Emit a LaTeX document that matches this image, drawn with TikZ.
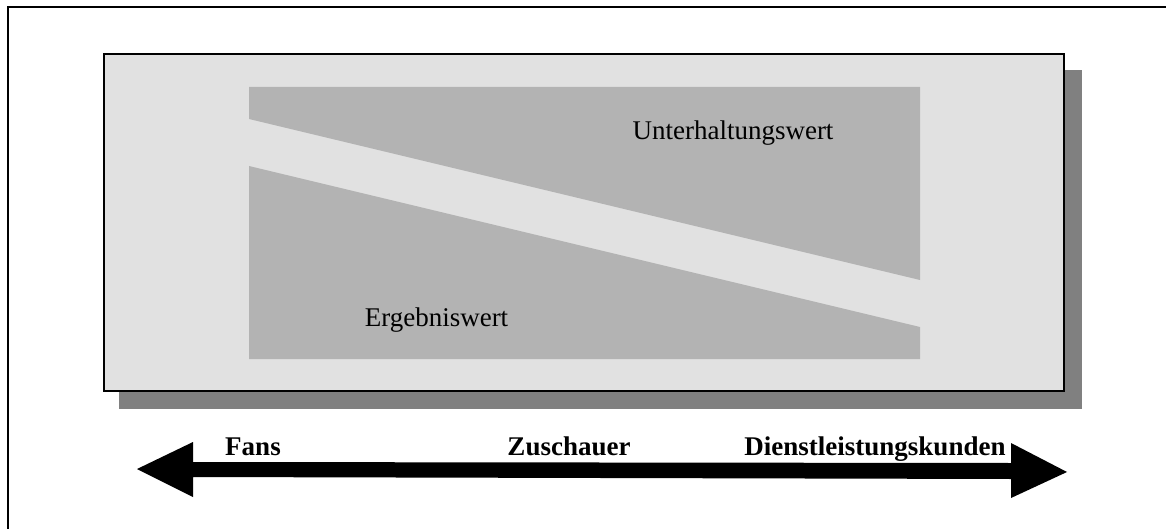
\documentclass[tikz,border=0pt]{standalone}
\usepackage{fontspec}
\setmainfont{Liberation Serif}
\definecolor{panelgray}{HTML}{E1E1E1}
\definecolor{wedgegray}{HTML}{B3B3B3}
\definecolor{shadowgray}{HTML}{808080}
\begin{document}
\begin{tikzpicture}[x=1pt,y=-1pt,
  lbl/.style={anchor=base,inner sep=0pt,font=\fontsize{27}{30}\selectfont},
  blbl/.style={lbl,font=\fontsize{27}{30}\selectfont\bfseries}]
\useasboundingbox (0,0) rectangle (1166,529);
% frame (left and top edges)
\draw[line width=1.6pt] (8,529) -- (8,7) -- (1166,7);
% drop shadow and panel
\fill[fill=shadowgray] (119,70) rectangle (1082,409);
\draw[line width=1.6pt,fill=panelgray] (104,54) rectangle (1064,391);
% two value wedges
\fill[fill=wedgegray] (249,87) -- (920,87) -- (920,280) -- (249,119) -- cycle;
\fill[fill=wedgegray] (249,166) -- (920,327) -- (920,359) -- (249,359) -- cycle;
\node[lbl] (unt) at (733,140) {Unterhaltungswert};
\node[lbl] (erg) at (436.5,326) {Ergebniswert};
% double-headed arrow
\fill (137,469) -- (193,442) -- (193,462) -- (1011,463) -- (1011,443)
  -- (1067,472) -- (1011,498) -- (1011,479) -- (193,477) -- (193,497) -- cycle;
\node[blbl] (fans) at (253,455) {Fans};
\node[blbl] (zus) at (569,455) {Zuschauer};
\node[blbl] (dlk) at (875,455) {Dienstleistungskunden};
\end{tikzpicture}
\end{document}
